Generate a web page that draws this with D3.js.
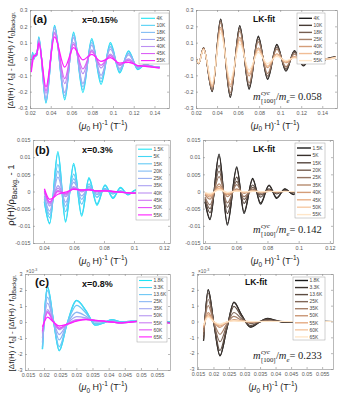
<!DOCTYPE html>
<html>
<head>
<meta charset="utf-8">
<script src="https://cdn.jsdelivr.net/npm/d3@7"></script>
<style>
  body { margin: 0; background: #fff; }
  svg { display: block; }
</style>
</head>
<body>
<svg id="fig" width="339" height="397"></svg>
<script>
// ---------- data ----------
// (a) x = 0.15 %, y in the plotted units
var aTemps = ["4K", "10K", "18K", "25K", "40K", "45K", "55K"];
var aExpX = [0.0212, 0.0225, 0.0238, 0.0255, 0.0265, 0.0285, 0.0354, 0.0437, 0.0535, 0.062, 0.071, 0.0795, 0.0885, 0.0975, 0.1065, 0.115, 0.124, 0.131, 0.138, 0.145];
var aExpY = [
  [-0.03, 0.04, 0.0, 0.035, 0.02, 0.135, -0.27, 0.205, -0.25, 0.165, -0.205, 0.125, -0.155, 0.1, -0.085, 0.05, -0.065, -0.035, -0.045, -0.05],
  [-0.035, 0.035, 0.0, 0.03, 0.02, 0.13, -0.265, 0.2, -0.24, 0.155, -0.19, 0.115, -0.14, 0.09, -0.078, 0.045, -0.06, -0.035, -0.045, -0.05],
  [-0.04, 0.03, 0.005, 0.03, 0.02, 0.125, -0.255, 0.195, -0.225, 0.145, -0.17, 0.1, -0.12, 0.075, -0.068, 0.035, -0.055, -0.035, -0.045, -0.05],
  [-0.045, 0.025, 0.005, 0.03, 0.025, 0.12, -0.24, 0.185, -0.205, 0.13, -0.15, 0.085, -0.1, 0.06, -0.058, 0.025, -0.05, -0.035, -0.045, -0.05],
  [-0.06, 0.01, 0.01, 0.025, 0.025, 0.11, -0.21, 0.165, -0.15, 0.1, -0.09, 0.055, -0.055, 0.03, -0.04, 0.0, -0.045, -0.04, -0.048, -0.052],
  [-0.065, 0.0, 0.015, 0.025, 0.028, 0.105, -0.195, 0.155, -0.12, 0.09, -0.06, 0.045, -0.038, 0.02, -0.035, -0.008, -0.042, -0.04, -0.048, -0.053],
  [-0.08, -0.02, 0.02, 0.02, 0.03, 0.095, -0.17, 0.135, -0.05, 0.07, -0.005, 0.028, -0.015, 0.008, -0.025, -0.02, -0.04, -0.045, -0.05, -0.055]
];
var aFitX = [0.02, 0.0225, 0.0272, 0.0354, 0.0434, 0.0526, 0.0616, 0.0705, 0.0792, 0.088, 0.0968, 0.1055, 0.1135, 0.122, 0.13, 0.138, 0.146, 0.153];
var aFitY = [
  [0.012, -0.028, 0.068, -0.2, 0.245, -0.235, 0.205, -0.185, 0.14, -0.125, 0.09, -0.075, 0.052, -0.042, 0.022, -0.015, 0.005, 0.015],
  [0.012, -0.028, 0.068, -0.198, 0.242, -0.23, 0.2, -0.179, 0.134, -0.119, 0.085, -0.07, 0.048, -0.038, 0.02, -0.013, 0.004, 0.014],
  [0.012, -0.028, 0.067, -0.194, 0.234, -0.22, 0.187, -0.165, 0.121, -0.105, 0.073, -0.059, 0.04, -0.031, 0.016, -0.01, 0.003, 0.013],
  [0.012, -0.027, 0.066, -0.188, 0.223, -0.206, 0.171, -0.147, 0.105, -0.089, 0.06, -0.047, 0.03, -0.022, 0.011, -0.007, 0.002, 0.012],
  [0.011, -0.026, 0.062, -0.171, 0.194, -0.169, 0.132, -0.104, 0.068, -0.053, 0.032, -0.023, 0.014, -0.009, 0.004, -0.002, 0.001, 0.01],
  [0.011, -0.026, 0.06, -0.164, 0.183, -0.156, 0.117, -0.09, 0.057, -0.044, 0.027, -0.018, 0.011, -0.006, 0.003, -0.002, 0.0, 0.01],
  [0.01, -0.025, 0.057, -0.149, 0.16, -0.127, 0.092, -0.066, 0.04, -0.028, 0.016, -0.01, 0.006, -0.003, 0.001, -0.001, 0.0, 0.01]
];
var aTicksX = [0.02, 0.04, 0.06, 0.08, 0.1, 0.12, 0.14];
var aLabelsX = ["0.02", "0.04", "0.06", "0.08", "0.1", "0.12", "0.14"];
var aTicksY = [-0.3, -0.2, -0.1, 0, 0.1, 0.2, 0.3];
var aLabelsY = ["-0.3", "-0.2", "-0.1", "0", "0.1", "0.2", "0.3"];

// (b) x = 0.3 %, y values in units of 1e-3
var bTemps = ["1.5K", "5K", "15K", "20K", "25K", "35K", "40K", "45K", "50K", "55K"];
var bExpX = [0.0403, 0.0438, 0.0493, 0.0544, 0.0598, 0.0651, 0.070, 0.0753, 0.0807, 0.086, 0.091, 0.096, 0.101, 0.106];
var bExpY = [
  [-3.0, -9.4, 11.6, -8.9, 8.2, -7.2, 4.0, -4.0, 1.9, -2.0, 1.2, -1.0, 0.5, 0.3],
  [-2.89, -9.17, 11.08, -8.44, 7.72, -6.63, 3.7, -3.58, 1.71, -1.75, 1.01, -0.91, 0.34, 0.16],
  [-2.16, -7.64, 7.88, -5.87, 5.08, -3.7, 2.22, -1.68, 0.88, -0.73, 0.26, -0.58, -0.23, -0.31],
  [-1.69, -6.65, 5.9, -4.29, 3.72, -2.27, 1.59, -0.93, 0.59, -0.4, 0.05, -0.49, -0.38, -0.42],
  [-1.18, -5.67, 4.16, -3.11, 2.69, -1.27, 1.15, -0.45, 0.4, -0.2, -0.09, -0.44, -0.45, -0.47],
  [-0.4, -4.22, 1.68, -1.5, 1.42, -0.13, 0.71, 0.02, 0.25, -0.05, -0.18, -0.41, -0.5, -0.5],
  [-0.09, -3.68, 0.94, -1.04, 1.09, 0.13, 0.62, 0.1, 0.23, -0.02, -0.19, -0.4, -0.5, -0.5],
  [0.13, -3.29, 0.35, -0.74, 0.9, 0.29, 0.56, 0.15, 0.21, -0.01, -0.2, -0.4, -0.5, -0.5],
  [0.31, -3.01, -0.03, -0.54, 0.77, 0.38, 0.53, 0.17, 0.2, 0.0, -0.2, -0.4, -0.5, -0.5],
  [0.8, -2.3, -0.8, -0.2, 0.6, 0.5, 0.5, 0.2, 0.2, 0.0, -0.2, -0.4, -0.5, -0.5]
];
var bFitX = [0.040, 0.0432, 0.049, 0.0543, 0.0603, 0.065, 0.0705, 0.0756, 0.081, 0.0859, 0.0912, 0.0965, 0.1];
var bFitY = [
  [-3.0, -8.2, 10.9, -9.8, 7.2, -6.4, 3.8, -3.7, 1.9, -2.0, 0.8, -0.9, 0.1],
  [-2.9, -7.9, 10.4, -9.3, 6.7, -5.9, 3.5, -3.3, 1.7, -1.75, 0.7, -0.77, 0.1],
  [-2.3, -6.2, 7.6, -6.4, 4.2, -3.5, 1.9, -1.65, 0.76, -0.73, 0.26, -0.27, 0.05],
  [-2.0, -5.0, 5.9, -4.6, 2.95, -2.3, 1.18, -1.0, 0.44, -0.4, 0.14, -0.13, 0.03],
  [-1.56, -3.9, 4.36, -3.3, 1.98, -1.47, 0.7, -0.57, 0.23, -0.2, 0.07, -0.06, 0.02],
  [-0.95, -2.2, 2.2, -1.5, 0.78, -0.52, 0.23, -0.16, 0.06, -0.05, 0.01, -0.01, 0],
  [-0.7, -1.6, 1.5, -0.95, 0.47, -0.31, 0.13, -0.085, 0.03, -0.02, 0.006, -0.005, 0],
  [-0.53, -1.15, 1.0, -0.6, 0.28, -0.17, 0.065, -0.044, 0.015, -0.01, 0, 0, 0],
  [-0.39, -0.82, 0.68, -0.38, 0.17, -0.1, 0.034, -0.022, 0.007, -0.005, 0, 0, 0],
  [-0.28, -0.57, 0.45, -0.24, 0.1, -0.06, 0.02, -0.011, 0, 0, 0, 0, 0]
];
var bTicksXLeft = [0.04, 0.06, 0.08, 0.1, 0.12];
var bLabelsXLeft = ["0.04", "0.06", "0.08", "0.1", "0.12"];
var bTicksY = [-15, -10, -5, 0, 5, 10, 15];
var bLabelsY = ["-0.015", "-0.01", "-0.005", "0", "0.005", "0.01", "0.015"];

// (c) x = 0.8 %, y values in units of 1e-3
var cTemps = ["1.8K", "3.3K", "13.6K", "25K", "35K", "50K", "55K", "60K", "65K"];
var cExpX = [0.0195, 0.0211, 0.0229, 0.0247, 0.027, 0.0301, 0.033, 0.0359, 0.0385, 0.041, 0.044, 0.047, 0.05, 0.053, 0.056, 0.059];
var cExpY = [
  [-1.7, 2.2, 0.1, -1.8, -0.2, 1.35, 0.7, -0.2, -0.05, 0.15, 0.0, 0.05, 0.05, 0.0, 0.05, 0.0],
  [-1.69, 2.18, 0.1, -1.78, -0.2, 1.33, 0.69, -0.19, -0.05, 0.15, 0.0, 0.05, 0.05, 0.0, 0.05, 0.0],
  [-1.55, 1.96, 0.08, -1.54, -0.19, 1.04, 0.55, -0.11, -0.02, 0.09, -0.02, 0.03, 0.05, -0.02, 0.03, -0.02],
  [-1.28, 1.56, 0.06, -1.12, -0.17, 0.61, 0.36, 0.0, 0.02, 0.04, -0.04, 0.01, 0.05, -0.04, 0.01, -0.04],
  [-1.01, 1.18, 0.04, -0.78, -0.16, 0.34, 0.25, 0.06, 0.04, 0.01, -0.05, 0.0, 0.05, -0.05, 0.0, -0.05],
  [-0.71, 0.77, 0.02, -0.48, -0.15, 0.15, 0.18, 0.09, 0.05, 0.0, -0.05, 0.0, 0.05, -0.05, 0.0, -0.05],
  [-0.62, 0.66, 0.01, -0.42, -0.15, 0.12, 0.17, 0.09, 0.05, 0.0, -0.05, 0.0, 0.05, -0.05, 0.0, -0.05],
  [-0.55, 0.59, 0.01, -0.38, -0.15, 0.09, 0.16, 0.1, 0.05, 0.0, -0.05, 0.0, 0.05, -0.05, 0.0, -0.05],
  [-0.3, 0.3, 0.0, -0.25, -0.15, 0.05, 0.15, 0.1, 0.05, 0.0, -0.05, 0.0, 0.05, -0.05, 0.0, -0.05]
];
var cFitX = [0.0168, 0.0183, 0.0201, 0.0221, 0.0243, 0.0266, 0.029, 0.032, 0.0345, 0.0374, 0.040, 0.043, 0.046, 0.049, 0.052, 0.055, 0.0585];
var cFitY = [
  [-1.22, 2.02, -0.07, -2.17, -0.47, 1.22, 0.43, -0.36, -0.08, 0.2, 0.07, -0.06, -0.01, 0.03, 0.0, 0.01, 0.0],
  [-1.21, 2.0, -0.07, -2.14, -0.46, 1.2, 0.42, -0.35, -0.08, 0.19, 0.07, -0.06, -0.01, 0.03, 0.0, 0.01, 0.0],
  [-1.1, 1.8, -0.06, -1.83, -0.38, 0.96, 0.32, -0.26, -0.05, 0.13, 0.04, -0.03, 0.0, 0.01, 0.0, 0.0, 0.0],
  [-0.88, 1.39, -0.05, -1.28, -0.25, 0.57, 0.18, -0.13, -0.02, 0.05, 0.02, -0.01, 0, 0, 0, 0, 0],
  [-0.67, 1.0, -0.03, -0.81, -0.15, 0.32, 0.09, -0.06, -0.01, 0.02, 0.01, 0, 0, 0, 0, 0, 0],
  [-0.4, 0.56, -0.02, -0.37, -0.06, 0.12, 0.03, -0.02, 0, 0, 0, 0, 0, 0, 0, 0, 0],
  [-0.33, 0.44, -0.01, -0.28, -0.04, 0.08, 0.02, -0.01, 0, 0, 0, 0, 0, 0, 0, 0, 0],
  [-0.27, 0.34, -0.01, -0.21, -0.03, 0.06, 0.01, -0.01, 0, 0, 0, 0, 0, 0, 0, 0, 0],
  [-0.22, 0.28, -0.01, -0.16, -0.02, 0.04, 0.01, 0, 0, 0, 0, 0, 0, 0, 0, 0, 0]
];
var cTicksX = [0.015, 0.02, 0.025, 0.03, 0.035, 0.04, 0.045, 0.05, 0.055];
var cLabelsX = ["0.015", "0.02", "0.025", "0.03", "0.035", "0.04", "0.045", "0.05", "0.055"];
var cTicksY = [-3, -2, -1, 0, 1, 2, 3];
var cLabelsY = ["-3", "-2", "-1", "0", "1", "2", "3"];

var dopings = ["x=0.15%", "x=0.3%", "x=0.8%"];
var masses = ["0.058", "0.142", "0.233"];

// ---------- drawing ----------
var svg = d3.select("#fig");
var sans = "'Liberation Sans', Arial, sans-serif";
var serif = "'Liberation Serif', 'Times New Roman', serif";

var coolColor = d3.interpolateRgbBasis(["#1ee4f4", "#72c8f6", "#a3a6f2", "#c889f0", "#ff1cff"]);
var copperColor = d3.interpolateRgbBasis(["#1c1c1c", "#5a4940", "#a88672", "#eea676", "#ffe6c8"]);

var clipN = 0;

function drawPanel(p) {
    var L = p.box[0], T = p.box[1], R = p.box[2], B = p.box[3];
    var x = d3.scaleLinear().domain(p.xDom).range([L, R]);
    var y = d3.scaleLinear().domain(p.yDom).range([B, T]);
    var g = svg.append("g");

    var cid = "clip" + (clipN++);
    g.append("clipPath").attr("id", cid)
        .append("rect").attr("x", L).attr("y", T).attr("width", R - L).attr("height", B - T);

    var line = d3.line()
        .x(function (d) { return x(d[0]); })
        .y(function (d) { return y(d[1]); })
        .curve(d3.curveMonotoneX);

    var lines = g.append("g").attr("clip-path", "url(#" + cid + ")");
    p.ys.forEach(function (vals, i) {
        var pts = p.xs.map(function (xv, j) { return [xv, vals[j]]; });
        lines.append("path")
            .datum(pts)
            .attr("d", line)
            .attr("fill", "none")
            .attr("stroke", p.color(i / (p.ys.length - 1)))
            .attr("stroke-width", p.lw)
            .attr("stroke-linejoin", "round");
    });

    // box with inward ticks on all four sides
    g.append("g").attr("transform", "translate(0," + B + ")")
        .call(d3.axisBottom(x).tickValues(p.xTicks)
            .tickFormat(function (d, i) { return p.xLabels[i]; })
            .tickSizeInner(-2).tickSizeOuter(0).tickPadding(3));
    g.append("g").attr("transform", "translate(0," + T + ")")
        .call(d3.axisTop(x).tickValues(p.xTicks).tickFormat("").tickSizeInner(-2).tickSizeOuter(0));
    g.append("g").attr("transform", "translate(" + L + ",0)")
        .call(d3.axisLeft(y).tickValues(p.yTicks)
            .tickFormat(function (d, i) { return p.yLabels[i]; })
            .tickSizeInner(-2).tickSizeOuter(0).tickPadding(2.5));
    g.append("g").attr("transform", "translate(" + R + ",0)")
        .call(d3.axisRight(y).tickValues(p.yTicks).tickFormat("").tickSizeInner(-2).tickSizeOuter(0));

    g.selectAll(".domain").attr("stroke", "#8a8a8a").attr("stroke-width", 0.6);
    g.selectAll(".tick line").attr("stroke", "#8a8a8a").attr("stroke-width", 0.6);
    g.selectAll(".tick text").attr("fill", "#5a5a5a").attr("font-size", 5.4).attr("font-family", sans);

    // legend
    var lg = g.append("g");
    var lb = p.legend;
    lg.append("rect")
        .attr("x", lb.x).attr("y", lb.y).attr("width", lb.w).attr("height", lb.h)
        .attr("fill", "#fff").attr("stroke", "#a0a0a0").attr("stroke-width", 0.5);
    p.temps.forEach(function (t, i) {
        var yy = lb.y + lb.first + i * lb.step;
        lg.append("line")
            .attr("x1", lb.x + 2).attr("x2", lb.x + 2 + lb.len)
            .attr("y1", yy).attr("y2", yy)
            .attr("stroke", p.color(i / (p.temps.length - 1)))
            .attr("stroke-width", lb.lw);
        lg.append("text")
            .attr("x", lb.x + 3.5 + lb.len).attr("y", yy + 1.7)
            .attr("font-size", 4.9).attr("font-family", sans).attr("fill", "#444")
            .text(t);
    });
    return { x: x, y: y };
}

// rich text helper: parts = [[text, kind]], kind in n / i / sub / sup
function rich(t, parts, size) {
    var shift = 0;
    parts.forEach(function (p) {
        var kind = p[1];
        var target = kind === "sub" ? size * 0.3 : (kind === "sup" ? -size * 0.4 : 0);
        var ts = t.append("tspan").text(p[0]).attr("dy", target - shift);
        if (kind === "sub" || kind === "sup") ts.attr("font-size", size * 0.72);
        if (kind === "i") ts.attr("font-style", "italic");
        shift = target;
    });
}

function xLabel(cx, base) {
    var t = svg.append("text").attr("x", cx).attr("y", base)
        .attr("text-anchor", "middle").attr("font-size", 9).attr("font-family", sans).attr("fill", "#222");
    rich(t, [["(", "n"], ["\u03bc", "i"], ["0", "sub"], [" H)", "n"], ["-1", "sup"], [" (T", "n"], ["-1", "sup"], [")", "n"]], 9);
}

function yLabel(cx, cy, parts, size) {
    var t = svg.append("text")
        .attr("transform", "translate(" + cx + "," + cy + ") rotate(-90)")
        .attr("text-anchor", "middle").attr("font-size", size).attr("font-family", sans).attr("fill", "#222");
    rich(t, parts, size);
}

function boldText(x, y, s, size) {
    svg.append("text").attr("x", x).attr("y", y)
        .attr("font-size", size).attr("font-weight", "bold").attr("font-family", sans).attr("fill", "#111")
        .text(s);
}

function massText(x0, base, val) {
    var size = 10.5;
    var g = svg.append("g").attr("font-family", serif).attr("fill", "#222");
    var m = g.append("text").attr("x", x0).attr("y", base).attr("font-size", size).attr("font-style", "italic").text("m");
    var xs = x0 + m.node().getComputedTextLength() + 0.3;
    var sup = g.append("text").attr("x", xs).attr("y", base - 4.6).attr("font-size", 6.8).attr("font-style", "italic").text("cyc");
    var sub = g.append("text").attr("x", xs).attr("y", base + 2.6).attr("font-size", 6.8).text("[100]");
    var xn = xs + Math.max(sup.node().getComputedTextLength(), sub.node().getComputedTextLength()) + 0.3;
    var t = g.append("text").attr("x", xn).attr("y", base).attr("font-size", size);
    t.append("tspan").text("/");
    t.append("tspan").attr("font-style", "italic").text("m");
    t.append("tspan").attr("font-size", 6.8).attr("font-style", "italic").attr("dy", 2.6).text("e");
    t.append("tspan").attr("dy", -2.6).text("= " + val);
}

var fLabel = [["[\u0394f(H) / f", "n"], ["0", "sub"], ["] - [\u0394f(H) / f", "n"], ["0", "sub"], ["]", "n"], ["Backgr.", "sub"]];

// ----- row (a)
drawPanel({
    box: [30, 10, 169, 108], xDom: [0.02, 0.154], yDom: [-0.3, 0.3],
    xs: aExpX, ys: aExpY, color: coolColor, lw: 1.3, temps: aTemps,
    xTicks: aTicksX, xLabels: aLabelsX, yTicks: aTicksY, yLabels: aLabelsY,
    legend: { x: 139, y: 13, w: 30, h: 51, first: 5.3, step: 7.05, len: 14, lw: 1.1 }
});
drawPanel({
    box: [196, 10, 337, 108], xDom: [0.02, 0.154], yDom: [-0.3, 0.3],
    xs: aFitX, ys: aFitY, color: copperColor, lw: 1.2, temps: aTemps,
    xTicks: aTicksX, xLabels: aLabelsX, yTicks: aTicksY, yLabels: aLabelsY,
    legend: { x: 297, y: 13, w: 28, h: 51, first: 5.3, step: 7.05, len: 13, lw: 1.4 }
});
boldText(33, 23, "(a)", 11.5);
boldText(82, 22.5, dopings[0], 9);
boldText(253, 22, "LK-fit", 8.5);
massText(253, 100, masses[0]);
xLabel(103, 128.5);
xLabel(275, 128.5);
yLabel(13, 60, fLabel, 8);

// ----- row (b)
drawPanel({
    box: [33, 140, 170, 243], xDom: [0.0327, 0.124], yDom: [-15, 15],
    xs: bExpX, ys: bExpY, color: coolColor, lw: 1.3, temps: bTemps,
    xTicks: bTicksXLeft, xLabels: bLabelsXLeft, yTicks: bTicksY, yLabels: bLabelsY,
    legend: { x: 136, y: 145, w: 33, h: 75, first: 4.2, step: 7.3, len: 14, lw: 1.1 }
});
drawPanel({
    box: [203, 140, 333, 243], xDom: [0.0387, 0.122], yDom: [-15, 15],
    xs: bFitX, ys: bFitY, color: copperColor, lw: 1.2, temps: bTemps,
    xTicks: bTicksXLeft, xLabels: bLabelsXLeft, yTicks: bTicksY, yLabels: bLabelsY,
    legend: { x: 295, y: 143, w: 30, h: 75, first: 5, step: 7.4, len: 14, lw: 1.4 }
});
boldText(35, 154, "(b)", 11.5);
boldText(82, 153, dopings[1], 9);
boldText(253, 152, "LK-fit", 8.5);
massText(253, 233, masses[1]);
xLabel(103, 264);
xLabel(275, 264);
yLabel(14, 195, [["\u03c1(H)/\u03c1", "n"], ["Backg.", "sub"], [" - 1", "n"]], 9.5);

// ----- row (c)
drawPanel({
    box: [25, 274, 170, 370], xDom: [0.0141, 0.059], yDom: [-3, 3],
    xs: cExpX, ys: cExpY, color: coolColor, lw: 1.3, temps: cTemps,
    xTicks: cTicksX, xLabels: cLabelsX, yTicks: cTicksY, yLabels: cLabelsY,
    legend: { x: 137, y: 277, w: 30, h: 65, first: 3.5, step: 7.05, len: 13, lw: 1.1 }
});
drawPanel({
    box: [197, 274, 333, 369], xDom: [0.0147, 0.0585], yDom: [-3, 3],
    xs: cFitX, ys: cFitY, color: copperColor, lw: 1.2, temps: cTemps,
    xTicks: cTicksX, xLabels: cLabelsX, yTicks: cTicksY, yLabels: cLabelsY,
    legend: { x: 293, y: 277, w: 32, h: 63, first: 3.5, step: 7.05, len: 13, lw: 1.4 }
});
[26, 198].forEach(function (x0) {
    var t = svg.append("text").attr("x", x0).attr("y", 272.5)
        .attr("font-size", 4.8).attr("font-family", sans).attr("fill", "#5a5a5a");
    t.append("tspan").text("\u00d710");
    t.append("tspan").attr("dy", -1.8).attr("font-size", 3.6).text("-3");
});
boldText(35, 286, "(c)", 11.5);
boldText(82, 287, dopings[2], 9);
boldText(245, 285, "LK-fit", 8.5);
massText(253, 359, masses[2]);
xLabel(103, 390);
xLabel(273, 390);
yLabel(14, 323, fLabel, 8);
</script>
</body>
</html>
